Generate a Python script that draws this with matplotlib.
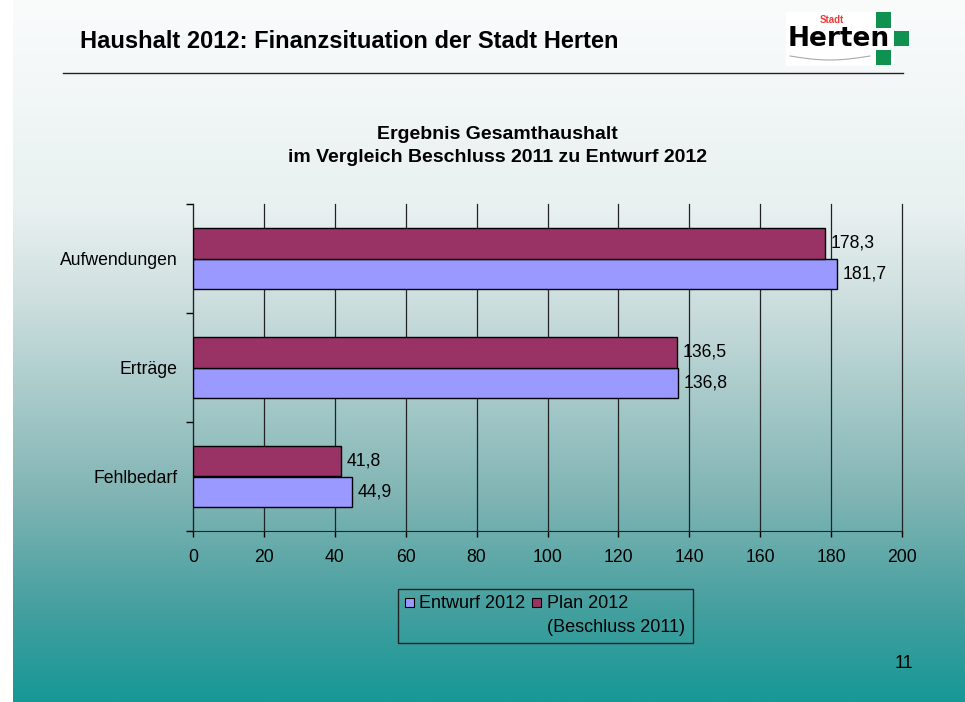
import numpy as np
import matplotlib.pyplot as plt
from matplotlib.colors import LinearSegmentedColormap
from matplotlib.patches import Rectangle

plt.rcParams['font.family'] = ['Liberation Sans', 'DejaVu Sans']

# Daten
categories = ['Aufwendungen', 'Erträge', 'Fehlbedarf']
entwurf_2012 = [181.7, 136.8, 44.9]
plan_2012 = [178.3, 136.5, 41.8]
x_ticks = [0, 20, 40, 60, 80, 100, 120, 140, 160, 180, 200]

col_entwurf = '#9999FF'
col_plan = '#993366'

fig = plt.figure(figsize=(9.65, 7.02), dpi=100)

# Hintergrund (Folienverlauf)
bg = fig.add_axes([13 / 965, 0, 1 - 13 / 965, 1], zorder=-10)
stops = [(0.0, (250, 252, 252)), (0.3, (232, 240, 240)), (0.43, (205, 222, 222)),
         (0.71, (128, 180, 180)), (0.86, (72, 160, 160)), (1.0, (22, 152, 150))]
cmap = LinearSegmentedColormap.from_list('folie', [(p, tuple(c / 255 for c in rgb)) for p, rgb in stops])
bg.imshow(np.linspace(0, 1, 256).reshape(-1, 1), aspect='auto', cmap=cmap, extent=[0, 1, 0, 1], origin='upper')
bg.axis('off')

# Kopfzeile
fig.text(80 / 965, 1 - 42 / 702, 'Haushalt 2012: Finanzsituation der Stadt Herten',
         fontsize=17, fontweight='bold', ha='left', va='center')
fig.add_artist(plt.Line2D([63 / 965, 903 / 965], [1 - 73 / 702] * 2, color='#222222', lw=1))

# Logo
def px(x0, y0, w, h, **kw):
    fig.add_artist(Rectangle((x0 / 965, 1 - (y0 + h) / 702), w / 965, h / 702, **kw))

px(786, 12, 108, 54, facecolor='white', edgecolor='none')
px(876, 12, 15, 16, facecolor='#0f9150', edgecolor='none')
px(894, 31, 15, 15, facecolor='#0f9150', edgecolor='none')
px(876, 50, 15, 15, facecolor='#0f9150', edgecolor='none')
fig.text(832 / 965, 1 - 20 / 702, 'Stadt', color='#ee3b3b', fontsize=7, fontweight='bold', ha='center', va='center')
fig.text(839 / 965, 1 - 46 / 702, 'Herten', color='black', fontsize=19, fontweight='bold',
         family='DejaVu Sans', ha='center', va='baseline')
sx = np.linspace(790, 870, 40)
sy = 56 + 4 * np.sin((sx - 790) / 80 * np.pi)
fig.add_artist(plt.Line2D(sx / 965, 1 - sy / 702, color='#aaaaaa', lw=0.8))

# Diagramm
ax = fig.add_axes([193 / 965, 1 - 531 / 702, 709 / 965, 327 / 702])
ax.patch.set_alpha(0)

y = np.arange(len(categories))
h = 0.28
ax.barh(y + h / 2, entwurf_2012, height=h, color=col_entwurf, edgecolor='black', lw=1, zorder=3)
ax.barh(y - h / 2, plan_2012, height=h, color=col_plan, edgecolor='black', lw=1, zorder=3)

for yi, v in zip(y, entwurf_2012):
    ax.annotate(f'{v:.1f}'.replace('.', ','), (v, yi + h / 2), xytext=(4, 0),
                textcoords='offset points', ha='left', va='center', fontsize=12.7)
for yi, v in zip(y, plan_2012):
    ax.annotate(f'{v:.1f}'.replace('.', ','), (v, yi - h / 2), xytext=(4, 0),
                textcoords='offset points', ha='left', va='center', fontsize=12.7)

ax.set_xlim(0, 200)
ax.set_ylim(len(categories) - 0.5, -0.5)
ax.set_xticks(x_ticks)
ax.set_xticklabels([str(t) for t in x_ticks], fontsize=12.7)
ax.set_yticks(np.arange(len(categories) + 1) - 0.5)
ax.set_yticklabels([])
ax.set_yticks(y, minor=True)
ax.set_yticklabels(categories, minor=True, fontsize=12.7)
ax.tick_params(axis='y', which='major', length=5, width=1, direction='out')
ax.tick_params(axis='y', which='minor', length=0, pad=11)
ax.tick_params(axis='x', length=4, width=1, direction='out', pad=9)
ax.grid(axis='x', color='#222222', lw=0.9, zorder=0)
for gl in ax.get_xgridlines():
    gl.set_clip_on(False)
for s in ['top', 'right']:
    ax.spines[s].set_visible(False)
for s in ['left', 'bottom']:
    ax.spines[s].set_color('#222222')

fig.text(497 / 965, 1 - 146 / 702, 'Ergebnis Gesamthaushalt\nim Vergleich Beschluss 2011 zu Entwurf 2012',
         fontsize=14, fontweight='bold', ha='center', va='center', linespacing=1.5)

# Legende
px(398, 589, 295, 54, facecolor='none', edgecolor='#222222', lw=1)
px(405, 598, 9, 9, facecolor=col_entwurf, edgecolor='black', lw=0.8)
fig.text(419 / 965, 1 - 603 / 702, 'Entwurf 2012', fontsize=13, ha='left', va='center')
px(532, 598, 9, 9, facecolor=col_plan, edgecolor='black', lw=0.8)
fig.text(547 / 965, 1 - 603 / 702, 'Plan 2012', fontsize=13, ha='left', va='center')
fig.text(547 / 965, 1 - 627 / 702, '(Beschluss 2011)', fontsize=13, ha='left', va='center')

fig.text(904 / 965, 1 - 664 / 702, '11', fontsize=13, ha='center', va='center')

plt.savefig('out.png', dpi=100)
